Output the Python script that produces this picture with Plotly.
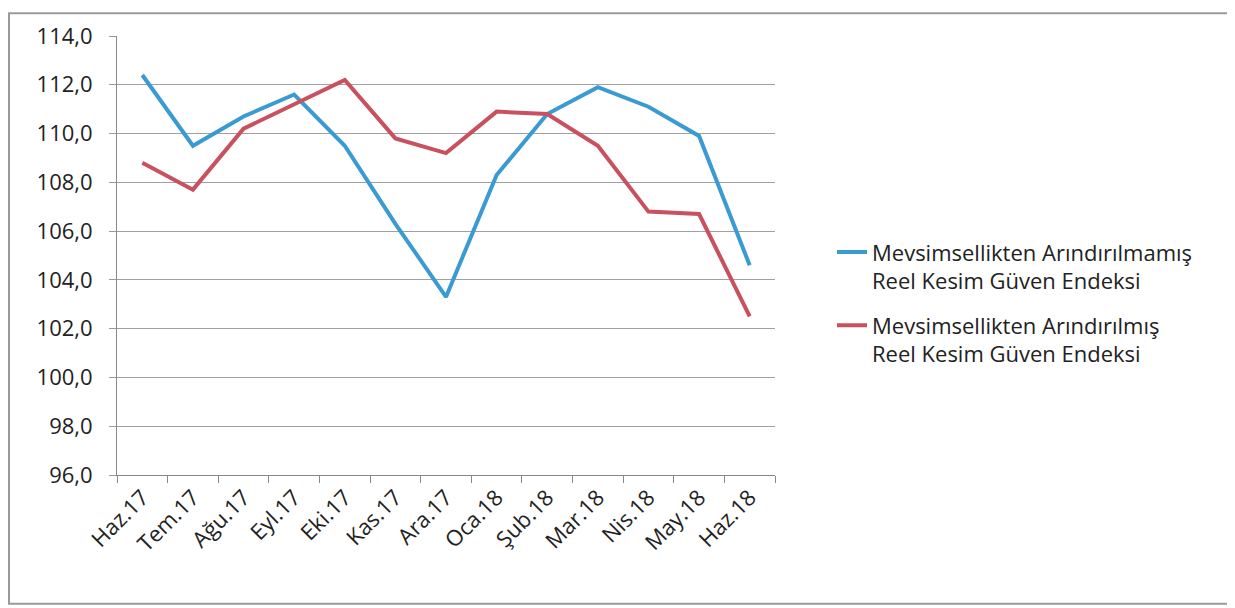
import plotly.graph_objects as go

categories = ["Haz.17", "Tem.17", "Ağu.17", "Eyl.17", "Eki.17", "Kas.17", "Ara.17",
              "Oca.18", "Şub.18", "Mar.18", "Nis.18", "May.18", "Haz.18"]
unadjusted = [112.4, 109.5, 110.7, 111.6, 109.5, 106.3, 103.3, 108.3, 110.8, 111.9, 111.1, 109.9, 104.6]
adjusted = [108.8, 107.7, 110.2, 111.2, 112.2, 109.8, 109.2, 110.9, 110.8, 109.5, 106.8, 106.7, 102.5]
y_ticks = [96, 98, 100, 102, 104, 106, 108, 110, 112, 114]
y_labels = ["96,0", "98,0", "100,0", "102,0", "104,0", "106,0", "108,0", "110,0", "112,0", "114,0"]

name1 = "Mevsimsellikten Arındırılmamış<br>Reel Kesim Güven Endeksi"
name2 = "Mevsimsellikten Arındırılmış<br>Reel Kesim Güven Endeksi"

# page has an 8px body margin; figure coordinates = page coordinates - 8
OFF = 8
W, H = 1227, 600
L, R, T, B = 117 - OFF, 775 - OFF, 32 - OFF, 475 - OFF

fig = go.Figure()
fig.add_trace(go.Scatter(x=categories, y=unadjusted, mode="lines", name=name1, legendgroup="g1",
                         line=dict(color="#3A9BD2", width=4)))
fig.add_trace(go.Scatter(x=categories, y=adjusted, mode="lines", name=name2, legendgroup="g2",
                         line=dict(color="#C9505F", width=4)))

font = "Open Sans, Noto Sans, sans-serif"

fig.update_layout(
    width=W, height=H,
    margin=dict(l=L, r=W - R, t=T, b=H - B, pad=0),
    paper_bgcolor="white", plot_bgcolor="white",
    font=dict(family=font, size=22, color="#222222"),
    showlegend=True,
    legend=dict(x=(824 - L) / (R - L), xanchor="left", y=(B - 221) / (B - T), yanchor="top",
                font=dict(size=22, color="#222222"), valign="top", tracegroupgap=13,
                bgcolor="rgba(0,0,0,0)"),
    xaxis=dict(type="category", range=[-0.5, 12.5], tickson="boundaries", ticks="outside",
               ticklen=7, tickcolor="#888888", showline=True, linecolor="#888888", linewidth=1,
               showgrid=False, tickangle=-45, tickfont=dict(size=22), fixedrange=True),
    yaxis=dict(range=[96, 114], tickvals=y_ticks, ticktext=y_labels, ticks="outside",
               ticklen=7, tickcolor="#999999", showline=True, linecolor="#888888", linewidth=1,
               showgrid=True, gridcolor="#a0a0a0", gridwidth=1, zeroline=False,
               tickfont=dict(size=22), ticklabelstandoff=12),
)

# outer chart border
fig.add_shape(type="rect", xref="paper", yref="paper",
              x0=(1 - L) / (R - L), x1=(1220 - L) / (R - L),
              y0=(B - 597) / (B - T), y1=(B - 1) / (B - T),
              line=dict(color="#9a9a9a", width=2), fillcolor="rgba(0,0,0,0)", layer="below")

fig.write_html("out.html")
